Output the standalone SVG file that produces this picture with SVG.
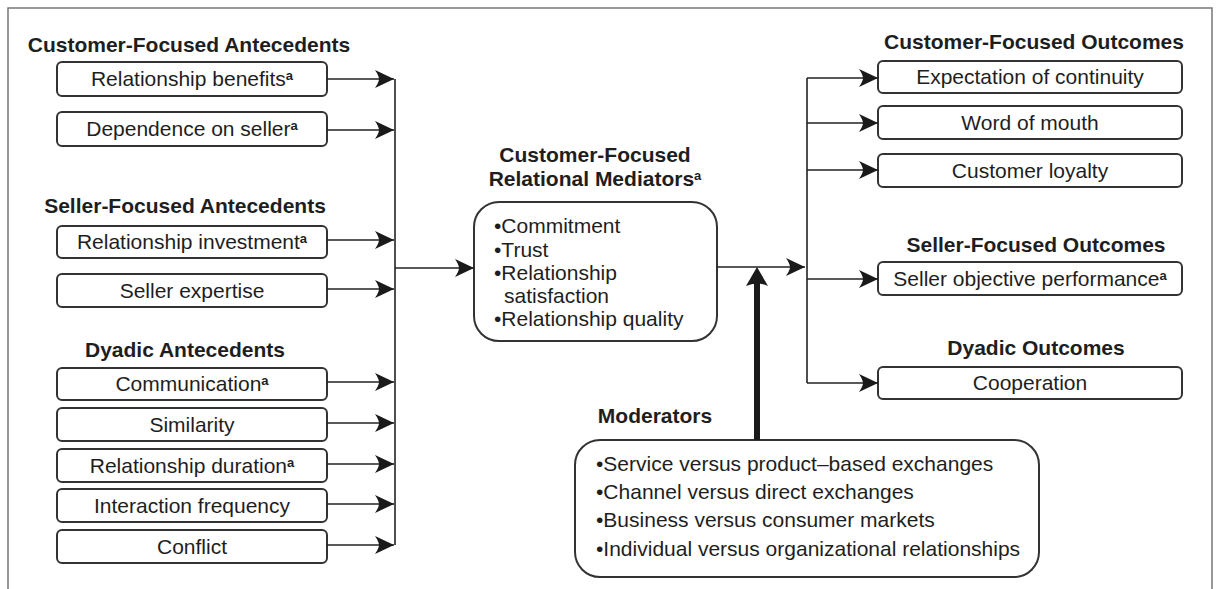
<svg xmlns="http://www.w3.org/2000/svg" width="1219" height="589" viewBox="0 0 1219 589">
  <style>
    text { font-family: "Liberation Sans", Arial, Helvetica, sans-serif; fill: #1e1e1e; }
    .head { font-size: 21px; font-weight: bold; text-anchor: middle; }
    .lbl { font-size: 21px; text-anchor: middle; }
    .item { font-size: 21px; }
    .sup { font-size: 13px; font-weight: bold; }
    .box { fill: #fff; stroke: #333; stroke-width: 2; }
    .wire { fill: none; stroke: #222; stroke-width: 1.6; }
    .frame { fill: none; stroke: #777; stroke-width: 1.5; }
  </style>
  <defs>
    <marker id="arrow" markerUnits="userSpaceOnUse" viewBox="-20 -10 21 20" refX="0" refY="0" markerWidth="21" markerHeight="20" orient="auto">
      <path d="M0,0 L-19,-9 Q-15,-3 -15,0 Q-15,3 -19,9 Z" fill="#1a1a1a"/>
    </marker>
  </defs>

  <rect width="1219" height="589" fill="#fff"/>
  <path class="frame" d="M8,589 V8 H1212 V589"/>

  <!-- antecedent column -->
  <g id="customer-antecedents">
    <text class="head" x="189" y="52">Customer-Focused Antecedents</text>
    <g id="relationship-benefits">
      <rect class="box" x="57" y="62" width="270" height="34" rx="5"/>
      <text class="lbl" x="192" y="86">Relationship benefits<tspan class="sup" dy="-6">a</tspan></text>
    </g>
    <g id="dependence-on-seller">
      <rect class="box" x="57" y="112" width="270" height="34" rx="5"/>
      <text class="lbl" x="192" y="136">Dependence on seller<tspan class="sup" dy="-6">a</tspan></text>
    </g>
  </g>

  <g id="seller-antecedents">
    <text class="head" x="185" y="213">Seller-Focused Antecedents</text>
    <g id="relationship-investment">
      <rect class="box" x="57" y="226" width="270" height="32" rx="5"/>
      <text class="lbl" x="192" y="249">Relationship investment<tspan class="sup" dy="-6">a</tspan></text>
    </g>
    <g id="seller-expertise">
      <rect class="box" x="57" y="274" width="270" height="33" rx="5"/>
      <text class="lbl" x="192" y="298">Seller expertise</text>
    </g>
  </g>

  <g id="dyadic-antecedents">
    <text class="head" x="185" y="357">Dyadic Antecedents</text>
    <g id="communication">
      <rect class="box" x="57" y="368" width="270" height="32" rx="5"/>
      <text class="lbl" x="192" y="391">Communication<tspan class="sup" dy="-6">a</tspan></text>
    </g>
    <g id="similarity">
      <rect class="box" x="57" y="408" width="270" height="33" rx="5"/>
      <text class="lbl" x="192" y="432">Similarity</text>
    </g>
    <g id="relationship-duration">
      <rect class="box" x="57" y="449" width="270" height="33" rx="5"/>
      <text class="lbl" x="192" y="473">Relationship duration<tspan class="sup" dy="-6">a</tspan></text>
    </g>
    <g id="interaction-frequency">
      <rect class="box" x="57" y="489" width="270" height="33" rx="5"/>
      <text class="lbl" x="192" y="513">Interaction frequency</text>
    </g>
    <g id="conflict">
      <rect class="box" x="57" y="530" width="270" height="33" rx="5"/>
      <text class="lbl" x="192" y="554">Conflict</text>
    </g>
  </g>

  <!-- mediators -->
  <g id="mediators">
    <text class="head" x="595" y="162">Customer-Focused</text>
    <text class="head" x="595" y="186">Relational Mediators<tspan class="sup" dy="-6">a</tspan></text>
    <rect class="box" x="474" y="202" width="243" height="139" rx="25"/>
    <text class="item" x="494" y="233">•Commitment</text>
    <text class="item" x="494" y="257">•Trust</text>
    <text class="item" x="494" y="280">•Relationship</text>
    <text class="item" x="504" y="303">satisfaction</text>
    <text class="item" x="494" y="326">•Relationship quality</text>
  </g>

  <!-- moderators -->
  <g id="moderators">
    <text class="head" x="655" y="423">Moderators</text>
    <rect class="box" x="575" y="440" width="464" height="137" rx="25"/>
    <text class="item" x="596" y="471">•Service versus product–based exchanges</text>
    <text class="item" x="596" y="499">•Channel versus direct exchanges</text>
    <text class="item" x="596" y="527">•Business versus consumer markets</text>
    <text class="item" x="596" y="556">•Individual versus organizational relationships</text>
  </g>

  <!-- outcome column -->
  <g id="customer-outcomes">
    <text class="head" x="1034" y="49">Customer-Focused Outcomes</text>
    <g id="expectation-of-continuity">
      <rect class="box" x="878" y="61" width="304" height="32" rx="5"/>
      <text class="lbl" x="1030" y="84">Expectation of continuity</text>
    </g>
    <g id="word-of-mouth">
      <rect class="box" x="878" y="106" width="304" height="33" rx="5"/>
      <text class="lbl" x="1030" y="130">Word of mouth</text>
    </g>
    <g id="customer-loyalty">
      <rect class="box" x="878" y="154" width="304" height="33" rx="5"/>
      <text class="lbl" x="1030" y="178">Customer loyalty</text>
    </g>
  </g>

  <g id="seller-outcomes">
    <text class="head" x="1036" y="252">Seller-Focused Outcomes</text>
    <g id="seller-objective-performance">
      <rect class="box" x="878" y="262" width="304" height="33" rx="5"/>
      <text class="lbl" x="1030" y="286">Seller objective performance<tspan class="sup" dy="-6">a</tspan></text>
    </g>
  </g>

  <g id="dyadic-outcomes">
    <text class="head" x="1036" y="355">Dyadic Outcomes</text>
    <g id="cooperation">
      <rect class="box" x="878" y="367" width="304" height="32" rx="5"/>
      <text class="lbl" x="1030" y="390">Cooperation</text>
    </g>
  </g>

  <!-- connectors -->
  <g id="connectors">
    <!-- antecedents into the left bus -->
    <path class="wire" d="M395,79 V545"/>
    <path class="wire" marker-end="url(#arrow)" d="M327,79 H394"/>
    <path class="wire" marker-end="url(#arrow)" d="M327,130 H394"/>
    <path class="wire" marker-end="url(#arrow)" d="M327,240 H394"/>
    <path class="wire" marker-end="url(#arrow)" d="M327,289 H394"/>
    <path class="wire" marker-end="url(#arrow)" d="M327,382 H394"/>
    <path class="wire" marker-end="url(#arrow)" d="M327,423 H394"/>
    <path class="wire" marker-end="url(#arrow)" d="M327,464 H394"/>
    <path class="wire" marker-end="url(#arrow)" d="M327,504 H394"/>
    <path class="wire" marker-end="url(#arrow)" d="M327,545 H394"/>
    <!-- bus to mediators -->
    <path class="wire" marker-end="url(#arrow)" d="M395,268 H474"/>
    <!-- mediators to outcome bus -->
    <path class="wire" marker-end="url(#arrow)" d="M717,267 H805"/>
    <path class="wire" d="M807,78 V383"/>
    <path class="wire" marker-end="url(#arrow)" d="M807,78 H878"/>
    <path class="wire" marker-end="url(#arrow)" d="M807,123 H878"/>
    <path class="wire" marker-end="url(#arrow)" d="M807,170 H878"/>
    <path class="wire" marker-end="url(#arrow)" d="M807,279 H878"/>
    <path class="wire" marker-end="url(#arrow)" d="M807,383 H878"/>
    <!-- moderating effect -->
    <path d="M757,440 V280" stroke="#1a1a1a" stroke-width="6" fill="none"/>
    <path d="M757,267 L746,286 Q757,281 768,286 Z" fill="#1a1a1a"/>
  </g>
</svg>
